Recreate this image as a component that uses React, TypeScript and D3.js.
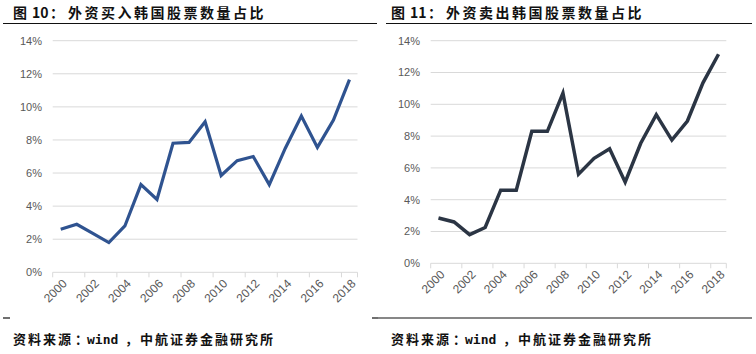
import React from 'react';
import * as d3 from 'd3';

const years = d3.range(2000, 2019).map(String);
const buyShare = [2.6, 2.9, 2.35, 1.8, 2.8, 5.3, 4.4, 7.8, 7.85, 9.1, 5.85, 6.75, 7.0, 5.3, 7.5, 9.45, 7.55, 9.2, 11.65];
const sellShare = [2.85, 2.6, 1.8, 2.25, 4.6, 4.6, 8.3, 8.3, 10.7, 5.6, 6.6, 7.2, 5.1, 7.55, 9.35, 7.75, 8.95, 11.35, 13.15];
const yTicks = [0, 2, 4, 6, 8, 10, 12, 14];

const titleFont = '"Noto Sans CJK SC", "DejaVu Sans", sans-serif';
const axisFont = '"Liberation Sans", Arial, sans-serif';
const monoFont = '"DejaVu Sans Mono", "Liberation Mono", monospace';

type PanelProps = {
  figNo: string;
  title: string;
  values: number[];
  color: string;
  strokeWidth: number;
  ox: number;
  plotLeft: number;
  plotRight: number;
  plotTop: number;
  plotBottom: number;
  labelRight: number;
};

const Panel = ({ figNo, title, values, color, strokeWidth, ox, plotLeft, plotRight, plotTop, plotBottom, labelRight }: PanelProps) => {
  const x = d3.scaleBand().domain(years).range([plotLeft, plotRight]);
  const y = d3.scaleLinear().domain([0, 14]).range([plotBottom, plotTop]);

  const line = d3.line<number>()
    .x((d, i) => (x(years[i]) as number) + x.bandwidth() / 2)
    .y(d => y(d));

  // tick marks sit on the band edges every two years
  const tickEdges = years.filter((_, i) => i % 2 === 0).map(yr => x(yr) as number).concat([plotRight]);

  return (
    <g>
      <text y={18} fontFamily={titleFont} fontSize={14} fontWeight="bold" fill="#111">
        <tspan x={ox + 13}>图</tspan>
        <tspan x={ox + 32}>{figNo}</tspan>
        <tspan x={ox + 50}>：</tspan>
        <tspan x={ox + 68} letterSpacing={2.5}>{title}</tspan>
      </text>

      {yTicks.map(t => (
        <g key={t}>
          <line x1={plotLeft} x2={plotRight} y1={y(t)} y2={y(t)} stroke="#d9d9d9" strokeWidth={1} />
          <text x={labelRight} y={y(t)} dy="0.35em" textAnchor="end" fontFamily={axisFont} fontSize={11} fill="#595959">
            {t}%
          </text>
        </g>
      ))}

      {tickEdges.map((tx, i) => (
        <line key={i} x1={tx} x2={tx} y1={plotBottom} y2={plotBottom + 5} stroke="#d9d9d9" />
      ))}

      {years.filter((_, i) => i % 2 === 0).map(yr => {
        const cx = (x(yr) as number) + x.bandwidth() / 2 + 4;
        const cy = plotBottom + 9;
        return (
          <text key={yr} x={cx} y={cy} transform={`rotate(-45 ${cx} ${cy})`} textAnchor="end" dy="0.35em"
            fontFamily={axisFont} fontSize={12} fill="#595959">
            {yr}
          </text>
        );
      })}

      <path d={line(values) || ''} fill="none" stroke={color} strokeWidth={strokeWidth} strokeLinejoin="miter" />

      <text y={344} fontFamily={titleFont} fontSize={13} fontWeight="bold" fill="#111">
        <tspan x={ox + 13} letterSpacing={2}>资料来源</tspan>
        <tspan x={ox + 75}>：</tspan>
        <tspan x={ox + 87} fontFamily={monoFont}>wind</tspan>
        <tspan x={ox + 125}>，</tspan>
        <tspan x={ox + 140} letterSpacing={2}>中航证券金融研究所</tspan>
      </text>
    </g>
  );
};

export default function App() {
  return (
    <svg width={756} height={354} style={{ position: 'absolute', left: 0, top: 0, background: '#fff' }}>
      <rect width={756} height={354} fill="#fff" />

      <Panel figNo="10" title="外资买入韩国股票数量占比" values={buyShare} color="#2f5390" strokeWidth={3.2}
        ox={0} plotLeft={52.7} plotRight={357.5} plotTop={40.7} plotBottom={272.3} labelRight={42} />
      <Panel figNo="11" title="外资卖出韩国股票数量占比" values={sellShare} color="#2b3544" strokeWidth={3.5}
        ox={378} plotLeft={430.7} plotRight={726.3} plotTop={40.7} plotBottom={263.3} labelRight={420} />

      {/* rules under the titles */}
      <line x1={3} x2={377} y1={23.5} y2={23.5} stroke="#111" strokeWidth={1.2} />
      <line x1={386} x2={752} y1={23.5} y2={23.5} stroke="#111" strokeWidth={1.2} />

      {/* rules above the sources */}
      <line x1={3} x2={10} y1={318} y2={318} stroke="#111" strokeWidth={1.2} />
      <line x1={372} x2={378} y1={318} y2={318} stroke="#111" strokeWidth={1.2} />
      <line x1={378} x2={752} y1={318} y2={318} stroke="#111" strokeWidth={1.2} />
    </svg>
  );
}
